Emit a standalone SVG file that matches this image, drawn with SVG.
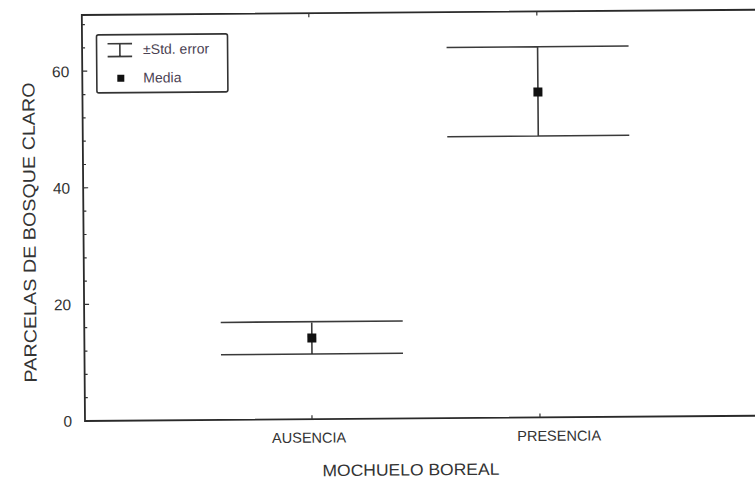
<svg xmlns="http://www.w3.org/2000/svg" width="755" height="479" viewBox="0 0 755 479">
<style>
.ax{stroke:#2a2a2a;stroke-width:1.8;fill:none;stroke-linecap:square}
.tk{stroke:#333;stroke-width:1.2;fill:none}
.eb{stroke:#3a3a3a;stroke-width:1.6;fill:none}
.mk{fill:#111}
.t{font-family:"Liberation Sans",Arial,sans-serif;fill:#333}
.lg{font-family:"Liberation Sans",Arial,sans-serif;fill:#4a4152;font-size:14px}
</style>
<rect width="755" height="479" fill="#fff"/>
<g transform="rotate(-0.45 85 421)">
  <g id="axes">
    <path class="ax" d="M85,15 V421 H775 M85,15 H775"/>
    <path class="tk" d="M85,421.0h5 M85,397.7h3 M85,374.4h3 M85,351.1h3 M85,327.7h3 M85,304.4h5 M85,281.1h3 M85,257.8h3 M85,234.5h3 M85,211.2h3 M85,187.8h5 M85,164.5h3 M85,141.2h3 M85,117.9h3 M85,94.6h3 M85,71.2h5 M85,47.9h3 M85,24.6h3"/>
    <path class="tk" d="M312,421v-4 M540,421v-4 M312,15v4 M540,15v4"/>
    <g class="t" font-size="15.5" text-anchor="end">
      <text x="72" y="426.5">0</text>
      <text x="72" y="310">20</text>
      <text x="72" y="193.5">40</text>
      <text x="72" y="77">60</text>
    </g>
    <g class="t" font-size="14.5" text-anchor="middle">
      <text x="309" y="444.5">AUSENCIA</text>
      <text x="559" y="444.5">PRESENCIA</text>
    </g>
    <text class="t" font-size="16.5" text-anchor="middle" textLength="177" lengthAdjust="spacingAndGlyphs" x="410.5" y="478">MOCHUELO BOREAL</text>
    <text class="t" font-size="17.5" text-anchor="middle" textLength="300" lengthAdjust="spacingAndGlyphs" transform="translate(37,232) rotate(-90)">PARCELAS DE BOSQUE CLARO</text>
  </g>
  <g id="connectors">
    <path class="eb" d="M221.5,323.5 H403.5 M221.5,355.8 H403.5 M312.5,323.5 V355.8"/>
    <path class="eb" d="M449.5,50.3 H631.5 M449.5,139.6 H631.5 M540.5,50.3 V139.6"/>
  </g>
  <g id="ausencia">
    <rect class="mk" x="308" y="335.3" width="9" height="9"/>
  </g>
  <g id="presencia">
    <rect class="mk" x="536" y="91.1" width="9" height="9"/>
  </g>
  <g id="legend">
    <rect x="99.5" y="35" width="131" height="58" rx="2" fill="#fff" stroke="#333" stroke-width="1.6"/>
    <path class="eb" d="M110.5,44 H135 M110.5,56.8 H135 M122.8,44 V56.8"/>
    <text class="lg" x="146" y="54.5">±Std. error</text>
    <rect class="mk" x="120" y="75" width="7" height="7"/>
    <text class="lg" x="146" y="83">Media</text>
  </g>
</g>
</svg>
